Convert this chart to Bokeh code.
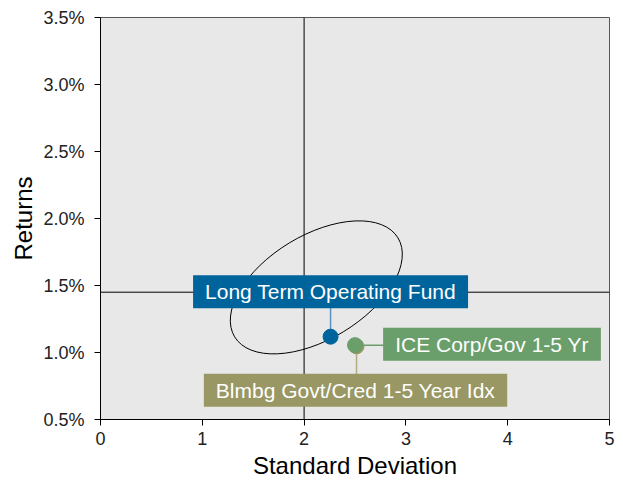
from bokeh.plotting import figure
from bokeh.models import Span, Label, Range1d, FixedTicker, PrintfTickFormatter
from bokeh.embed import file_html
from bokeh.resources import INLINE

# Data
names = ["Long Term Operating Fund", "ICE Corp/Gov 1-5 Yr", "Blmbg Govt/Cred 1-5 Year Idx"]
std_dev = [2.26, 2.50, 2.515]
returns = [1.118, 1.055, 1.046]
colors = ["#00649c", "#6a9e6a", "#999763"]
line_colors = ["#5a93c0", "#6a9e6a", "#b0ad80"]
x_ticks = [0, 1, 2, 3, 4, 5]
y_ticks = [0.5, 1.0, 1.5, 2.0, 2.5, 3.0, 3.5]
cross_x = 2.0
cross_y = 1.45
ell_x = 2.12
ell_y = 1.486

FONT = "Liberation Sans"

p = figure(width=623, height=481, output_backend="svg", toolbar_location=None,
           x_range=Range1d(0, 5), y_range=Range1d(0.5, 3.5),
           min_border_left=100, min_border_right=14, min_border_top=17, min_border_bottom=61)
p.background_fill_color = "#e8e8e8"
p.border_fill_color = "white"
p.outline_line_color = "#555555"
p.xgrid.grid_line_color = None
p.ygrid.grid_line_color = None

for ax in (p.xaxis[0], p.yaxis[0]):
    ax.axis_line_color = "black"
    ax.major_tick_line_color = "black"
    ax.major_tick_in = 0
    ax.major_tick_out = 6
    ax.minor_tick_line_color = None
    ax.major_label_text_font = FONT
    ax.major_label_text_font_size = "18px"
    ax.major_label_text_color = "#222222"
    ax.axis_label_text_font = FONT
    ax.axis_label_text_font_size = "24px"
    ax.axis_label_text_font_style = "normal"
    ax.axis_label_text_color = "black"

p.xaxis.ticker = FixedTicker(ticks=x_ticks)
p.yaxis.ticker = FixedTicker(ticks=y_ticks)
p.yaxis.formatter = PrintfTickFormatter(format="%.1f%%")
p.xaxis.axis_label = "Standard Deviation"
p.yaxis.axis_label = "Returns"
p.xaxis.major_label_standoff = 6
p.xaxis.axis_label_standoff = 4
p.yaxis.major_label_standoff = 10
p.yaxis.axis_label_standoff = 3

p.add_layout(Span(location=cross_x, dimension="height", line_color="black", line_width=1))
p.add_layout(Span(location=cross_y, dimension="width", line_color="black", line_width=1))

p.ellipse(x=[ell_x], y=[ell_y], width=191, height=104, angle=31.2, angle_units="deg",
          width_units="screen", height_units="screen",
          fill_color=None, line_color="black", line_width=1)

# connectors (rays in screen units)
conn_len = [30, 29, 30]
conn_ang = [90, 0, -90]
p.ray(x=std_dev, y=returns, length=conn_len, angle=conn_ang, angle_units="deg",
      length_units="screen", line_color=line_colors, line_width=1.5)

# markers: draw Blmbg first, then ICE, then LTOF
order = [2, 1, 0]
p.scatter(x=[std_dev[i] for i in order], y=[returns[i] for i in order],
          fill_color=[colors[i] for i in order], line_color=[colors[i] for i in order],
          size=15)

offsets = [(0, 45), (137, 1), (-1, -44)]
for i, name in enumerate(names):
    lab = Label(x=std_dev[i], y=returns[i], x_offset=offsets[i][0], y_offset=offsets[i][1],
                text=name, text_font=FONT, text_font_size="21px", text_color="white",
                text_align="center", text_baseline="middle",
                background_fill_color=colors[i], padding=(12, 5))
    p.add_layout(lab)

open("out.html", "w").write(file_html(p, INLINE))
